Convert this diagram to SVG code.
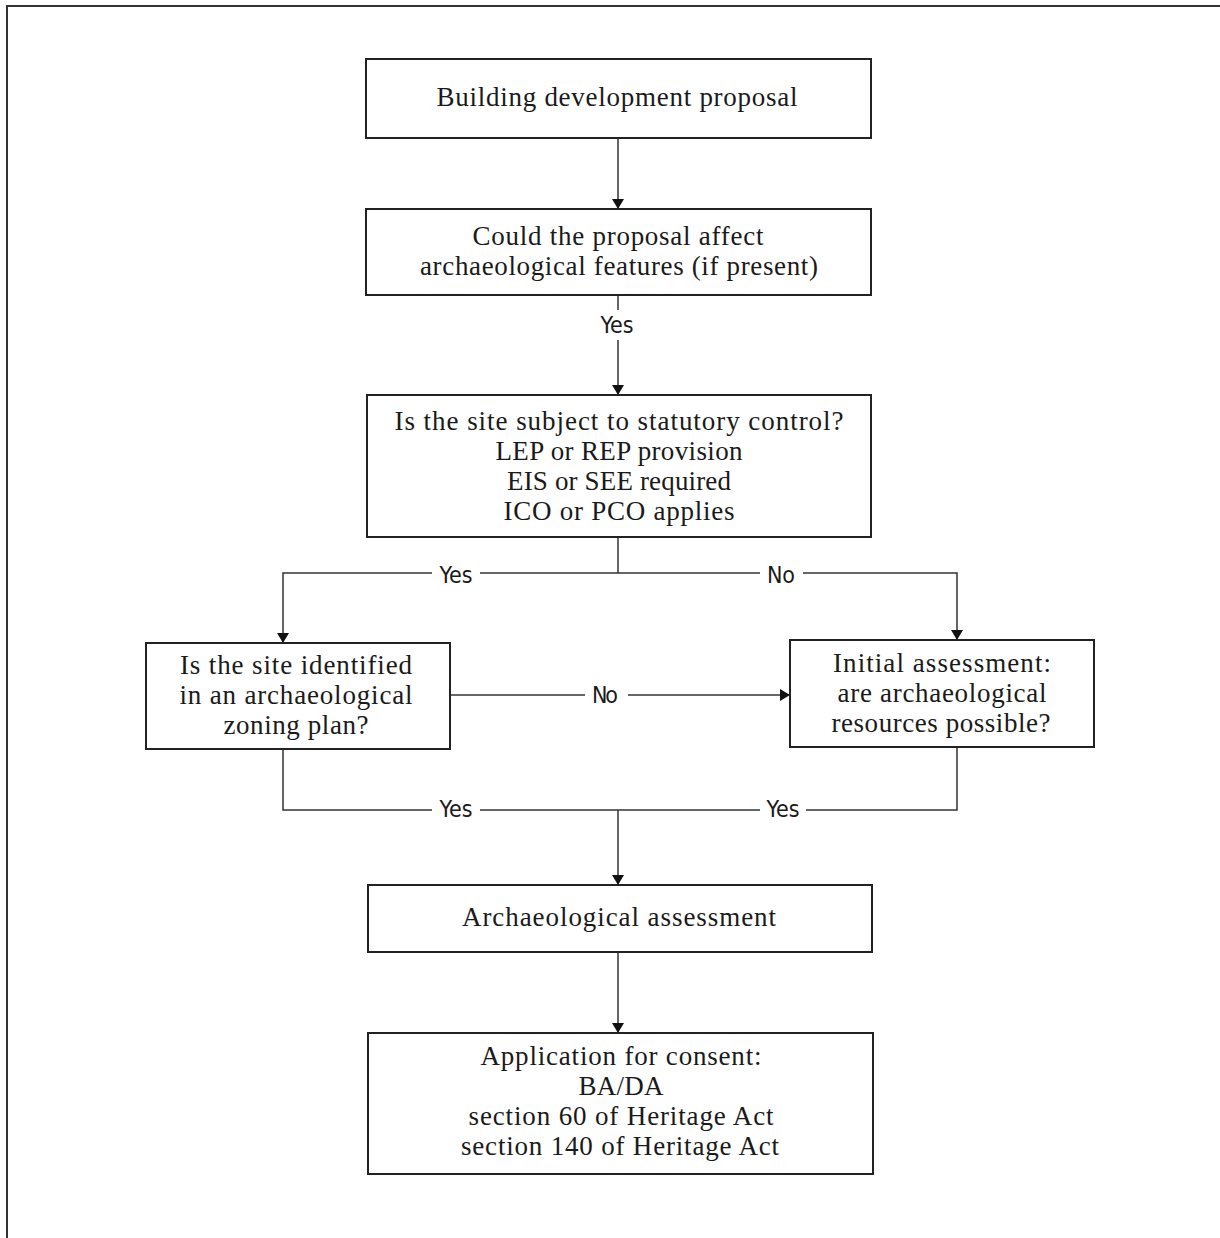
<svg xmlns="http://www.w3.org/2000/svg" width="1220" height="1238" viewBox="0 0 1220 1238">
<style>
.box{fill:#fff;stroke:#222;stroke-width:2}
.t{font-family:"Liberation Serif","Times New Roman",serif;font-size:27px;fill:#1a1a1a;text-anchor:middle}
.lbl{font-family:"Liberation Sans Narrow","DejaVu Sans Condensed","Liberation Sans",sans-serif;font-size:23px;fill:#1a1a1a;text-anchor:middle}
.ln{fill:none;stroke:#333;stroke-width:1.5}
</style>
<defs>
<marker id="ah" viewBox="0 0 10 12" refX="10" refY="6" markerWidth="10" markerHeight="12" markerUnits="userSpaceOnUse" orient="auto">
<path d="M0,0 L10,6 L0,12 Z" fill="#111"/>
</marker>
</defs>
<rect width="1220" height="1238" fill="#fff"/>
<path d="M7,1238 V6 H1220" fill="none" stroke="#333" stroke-width="2"/>

<g id="connectors">
<path class="ln" d="M618,138 V209" marker-end="url(#ah)"/>
<path class="ln" d="M618,295 V310"/>
<path class="ln" d="M618,340 V395" marker-end="url(#ah)"/>
<text class="lbl" x="617" y="333" textLength="33">Yes</text>
<path class="ln" d="M618,537 V573"/>
<path class="ln" d="M432,573 H283 V643" marker-end="url(#ah)"/>
<path class="ln" d="M480,573 H760"/>
<path class="ln" d="M803,573 H957 V640" marker-end="url(#ah)"/>
<text class="lbl" x="456" y="583" textLength="33">Yes</text>
<text class="lbl" x="781" y="583" textLength="28">No</text>
<path class="ln" d="M450,695 H585"/>
<path class="ln" d="M628,695 H790" marker-end="url(#ah)"/>
<text class="lbl" x="605" y="703" textLength="26">No</text>
<path class="ln" d="M283,749 V810 H432"/>
<path class="ln" d="M480,810 H760"/>
<path class="ln" d="M806,810 H957 V747"/>
<text class="lbl" x="456" y="817" textLength="33">Yes</text>
<text class="lbl" x="783" y="817" textLength="33">Yes</text>
<path class="ln" d="M618,810 V885" marker-end="url(#ah)"/>
<path class="ln" d="M618,952 V1033" marker-end="url(#ah)"/>
</g>

<g id="n1"><rect class="box" x="366" y="59" width="505" height="79"/>
<text class="t" x="617" y="106" textLength="361">Building development proposal</text></g>

<g id="n2"><rect class="box" x="366" y="209" width="505" height="86"/>
<text class="t" x="618" y="245" textLength="291">Could the proposal affect</text>
<text class="t" x="619" y="275" textLength="398">archaeological features (if present)</text></g>

<g id="n3"><rect class="box" x="367" y="395" width="504" height="142"/>
<text class="t" x="619" y="430" textLength="449">Is the site subject to statutory control?</text>
<text class="t" x="619" y="460" textLength="247">LEP or REP provision</text>
<text class="t" x="619" y="490" textLength="224">EIS or SEE required</text>
<text class="t" x="619" y="520" textLength="231">ICO or PCO applies</text></g>

<g id="n4"><rect class="box" x="146" y="643" width="304" height="106"/>
<text class="t" x="296" y="674" textLength="232">Is the site identified</text>
<text class="t" x="296" y="704" textLength="233">in an archaeological</text>
<text class="t" x="296" y="734" textLength="145">zoning plan?</text></g>

<g id="n5"><rect class="box" x="790" y="640" width="304" height="107"/>
<text class="t" x="942" y="672" textLength="218">Initial assessment:</text>
<text class="t" x="942" y="702" textLength="209">are archaeological</text>
<text class="t" x="941" y="732" textLength="219">resources possible?</text></g>

<g id="n6"><rect class="box" x="368" y="885" width="504" height="67"/>
<text class="t" x="619" y="926" textLength="314">Archaeological assessment</text></g>

<g id="n7"><rect class="box" x="368" y="1033" width="505" height="141"/>
<text class="t" x="621" y="1065" textLength="281">Application for consent:</text>
<text class="t" x="621" y="1095" textLength="85">BA/DA</text>
<text class="t" x="621" y="1125" textLength="305">section 60 of Heritage Act</text>
<text class="t" x="620" y="1155" textLength="318">section 140 of Heritage Act</text></g>
</svg>
